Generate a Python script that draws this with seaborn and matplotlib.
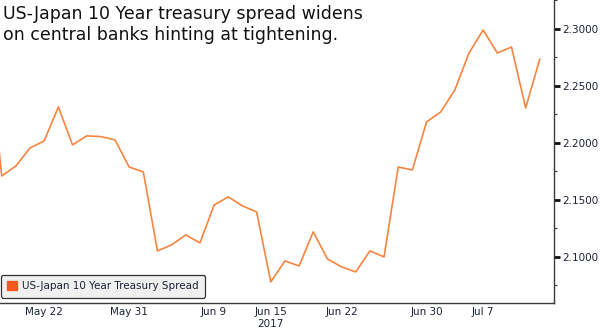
import matplotlib
matplotlib.use("Agg")
import matplotlib.pyplot as plt
from matplotlib.patches import Patch
from matplotlib.ticker import FixedLocator, MultipleLocator, FuncFormatter
import numpy as np
import pandas as pd
import seaborn as sns

# Trading dates (2017) and the US-Japan 10Y spread, in percent
dates = [
    "05-16", "05-17", "05-18", "05-19", "05-22", "05-23", "05-24", "05-25",
    "05-26", "05-30", "05-31", "06-01", "06-02", "06-05", "06-06", "06-07",
    "06-09", "06-12", "06-13", "06-14", "06-15", "06-16", "06-19", "06-20",
    "06-21", "06-22", "06-23", "06-26", "06-27", "06-28", "06-29", "06-30",
    "07-03", "07-05", "07-06", "07-07", "07-10", "07-11", "07-12", "07-13",
]
spread = [
    2.2950, 2.1711, 2.1798, 2.1956, 2.2018, 2.2316, 2.1983, 2.2062,
    2.2056, 2.2027, 2.1789, 2.1746, 2.1053, 2.1106, 2.1194, 2.1123,
    2.1456, 2.1527, 2.1448, 2.1395, 2.0781, 2.0965, 2.0921, 2.1220,
    2.0983, 2.0913, 2.0869, 2.1053, 2.1000, 2.1789, 2.1763, 2.2184,
    2.2272, 2.2465, 2.2789, 2.2991, 2.2789, 2.2842, 2.2307, 2.2737,
]
tick_dates = ["05-22", "05-31", "06-09", "06-15", "06-22", "06-30", "07-07"]
tick_labels = ["May 22", "May 31", "Jun 9", "Jun 15\n2017", "Jun 22", "Jun 30", "Jul 7"]
series_name = "US-Japan 10 Year Treasury Spread"
title = "US-Japan 10 Year treasury spread widens\non central banks hinting at tightening."

df = pd.DataFrame({"date": dates, "spread": spread})
df["pos"] = np.arange(len(df))

sns.set_style("white")
plt.rcParams["font.family"] = ["DejaVu Sans"]

line_color = "#f7843f"
text_color = "#1b2233"
axis_color = "#3a3a3a"

fig = plt.figure(figsize=(6.0, 3.32), dpi=100)
ax = fig.add_axes([0.0, 0.0873, 0.9233, 0.9127])

sns.lineplot(data=df, x="pos", y="spread", ax=ax, color=line_color,
             linewidth=1.2, legend=False)

ax.set_xlim(0.88, len(df))
ax.set_ylim(2.0596, 2.3254)

# spines: only right and bottom
for side in ("left", "top"):
    ax.spines[side].set_visible(False)
for side in ("right", "bottom"):
    ax.spines[side].set_color(axis_color)
    ax.spines[side].set_linewidth(1.0)

# y axis on the right
ax.yaxis.tick_right()
ax.yaxis.set_label_position("right")
ax.yaxis.set_major_locator(MultipleLocator(0.05))
ax.yaxis.set_minor_locator(MultipleLocator(0.025))
ax.yaxis.set_major_formatter(FuncFormatter(lambda v, _: f"{v:.4f}"))
ax.tick_params(axis="y", which="major", direction="out", length=4, width=2.0,
               color="#111111", labelsize=7.5, labelcolor=text_color, pad=2,
               left=False, right=True)
ax.tick_params(axis="y", which="minor", direction="out", length=2.5, width=0.8,
               color=axis_color, left=False, right=True)

# x axis: a tick per trading day, labels on selected dates
pos_of = dict(zip(df["date"], df["pos"]))
ax.xaxis.set_major_locator(FixedLocator([pos_of[d] for d in tick_dates]))
ax.xaxis.set_ticklabels(tick_labels)
ax.xaxis.set_minor_locator(FixedLocator(np.arange(1, len(df) + 1)))
ax.tick_params(axis="x", which="both", direction="in", length=3, width=0.8,
               color=axis_color, labelsize=7.5, labelcolor=text_color, pad=3)

ax.set_xlabel("")
ax.set_ylabel("")
ax.grid(False)

# legend with a square swatch
handle = Patch(facecolor="#f5571f", edgecolor="#f5571f", label=series_name)
leg = ax.legend(handles=[handle], loc="lower left", bbox_to_anchor=(0.002, 0.018),
                borderaxespad=0, fontsize=7.5, frameon=True, fancybox=True,
                handlelength=0.9, handleheight=0.9, handletextpad=0.5,
                borderpad=0.6)
frame = leg.get_frame()
frame.set_facecolor("#f0f0f0")
frame.set_edgecolor("#333333")
frame.set_linewidth(0.9)
frame.set_alpha(1.0)
for t in leg.get_texts():
    t.set_color(text_color)

fig.text(0.005, 0.985, title, ha="left", va="top", fontsize=12.5,
         color="#111111", linespacing=1.25)

fig.savefig("out.png", dpi=100)
